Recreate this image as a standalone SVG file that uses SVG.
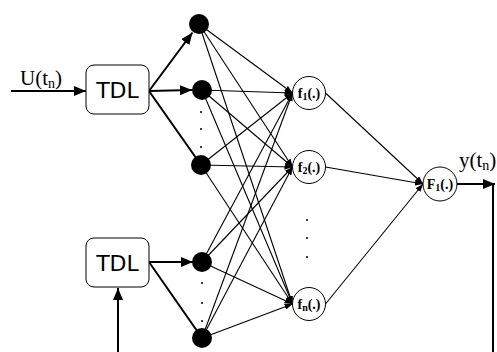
<svg xmlns="http://www.w3.org/2000/svg" width="497" height="352" viewBox="0 0 497 352">
<defs>
<marker id="ab" markerUnits="userSpaceOnUse" markerWidth="12" markerHeight="10" viewBox="0 0 12 10" refX="12" refY="5" orient="auto"><path d="M0,0 L12,5 L0,10 Z" fill="#000"/></marker>
<marker id="as" markerUnits="userSpaceOnUse" markerWidth="8" markerHeight="6" viewBox="0 0 8 6" refX="8" refY="3" orient="auto"><path d="M0,0 L8,3 L0,6 Z" fill="#000"/></marker>
</defs>
<style>
.thick{stroke:#000;stroke-width:2;fill:none}
.thin{stroke:#000;stroke-width:1.1;fill:none}
.box{fill:#fff;stroke:#000;stroke-width:1}
.tdl{font-family:"DejaVu Sans",sans-serif;font-size:22px;text-anchor:middle}
.lbl{font-family:"Liberation Serif",serif;font-size:21px}
.fn{font-family:"Liberation Serif",serif;font-size:14px;font-weight:bold;text-anchor:middle}
.hid{fill:#000}
.fc{fill:#fff;stroke:#000;stroke-width:1}
.dot{fill:#000}
</style>
<g id="connectors">
<line class="thick" x1="11" y1="91" x2="86" y2="91" marker-end="url(#ab)"/>
<line class="thick" x1="118" y1="352" x2="118" y2="288" marker-end="url(#ab)"/>
<line class="thick" x1="149" y1="91" x2="192.5" y2="32.5" marker-end="url(#ab)"/>
<line class="thick" x1="149" y1="91" x2="192" y2="90" marker-end="url(#ab)"/>
<line class="thick" x1="149" y1="91" x2="201" y2="165"/>
<line class="thick" x1="149" y1="262" x2="193" y2="262" marker-end="url(#ab)"/>
<line class="thick" x1="149" y1="262" x2="202" y2="338"/>
<g class="thin">
<line x1="199" y1="24" x2="292.5" y2="93" marker-end="url(#as)"/>
<line x1="199" y1="24" x2="292.5" y2="167" marker-end="url(#as)"/>
<line x1="199" y1="24" x2="292.5" y2="304" marker-end="url(#as)"/>
<line x1="202" y1="90" x2="292.5" y2="93" marker-end="url(#as)"/>
<line x1="202" y1="90" x2="292.5" y2="167" marker-end="url(#as)"/>
<line x1="202" y1="90" x2="292.5" y2="304" marker-end="url(#as)"/>
<line x1="201" y1="165" x2="292.5" y2="93" marker-end="url(#as)"/>
<line x1="201" y1="165" x2="292.5" y2="167" marker-end="url(#as)"/>
<line x1="201" y1="165" x2="292.5" y2="304" marker-end="url(#as)"/>
<line x1="202" y1="262" x2="292.5" y2="93" marker-end="url(#as)"/>
<line x1="202" y1="262" x2="292.5" y2="167" marker-end="url(#as)"/>
<line x1="202" y1="262" x2="292.5" y2="304" marker-end="url(#as)"/>
<line x1="202" y1="338" x2="292.5" y2="93" marker-end="url(#as)"/>
<line x1="202" y1="338" x2="292.5" y2="167" marker-end="url(#as)"/>
<line x1="202" y1="338" x2="292.5" y2="304" marker-end="url(#as)"/>
<line x1="325.5" y1="93" x2="423" y2="184" marker-end="url(#as)"/>
<line x1="325.5" y1="167" x2="423" y2="184" marker-end="url(#as)"/>
<line x1="325.5" y1="304" x2="423" y2="184" marker-end="url(#as)"/>
</g>
<line class="thick" x1="457" y1="184" x2="495" y2="184" marker-end="url(#ab)"/>
<line class="thick" x1="493" y1="184" x2="493" y2="352"/>
</g>
<g id="tdl1"><rect class="box" x="86" y="65" width="63" height="49" rx="8"/><text class="tdl" x="117.5" y="97.5">TDL</text></g>
<g id="tdl2"><rect class="box" x="86" y="238" width="63" height="49" rx="8"/><text class="tdl" x="117.5" y="270.5">TDL</text></g>
<g id="h1"><circle class="hid" cx="199" cy="24" r="10"/></g>
<g id="h2"><circle class="hid" cx="202" cy="90" r="10"/></g>
<g id="h3"><circle class="hid" cx="201" cy="165" r="10"/></g>
<g id="h4"><circle class="hid" cx="202" cy="262" r="10"/></g>
<g id="h5"><circle class="hid" cx="202" cy="338" r="10"/></g>
<g id="dots">
<circle class="dot" cx="201" cy="112" r="1"/><circle class="dot" cx="201" cy="129" r="1"/><circle class="dot" cx="201" cy="147" r="1"/>
<circle class="dot" cx="202" cy="283" r="1"/><circle class="dot" cx="202" cy="303" r="1"/><circle class="dot" cx="202" cy="321" r="1"/>
<circle class="dot" cx="307" cy="220" r="1"/><circle class="dot" cx="307" cy="238" r="1"/><circle class="dot" cx="307" cy="257" r="1"/>
</g>
<g id="f1"><circle class="fc" cx="309" cy="93" r="16.5"/><text class="fn" x="309" y="98">f<tspan font-size="10" dy="2">1</tspan><tspan dy="-2">(.)</tspan></text></g>
<g id="f2"><circle class="fc" cx="309" cy="167" r="16.5"/><text class="fn" x="309" y="172">f<tspan font-size="10" dy="2">2</tspan><tspan dy="-2">(.)</tspan></text></g>
<g id="fn"><circle class="fc" cx="309" cy="304" r="16.5"/><text class="fn" x="309" y="309">f<tspan font-size="10" dy="2">n</tspan><tspan dy="-2">(.)</tspan></text></g>
<g id="F1"><circle class="fc" cx="440" cy="184" r="17"/><text class="fn" x="440" y="189" font-size="13">F<tspan font-size="10" dy="2">1</tspan><tspan dy="-2">(.)</tspan></text></g>
<g id="labels">
<text class="lbl" x="20" y="85">U(t<tspan font-size="14" dy="3">n</tspan><tspan dy="-3">)</tspan></text>
<text class="lbl" x="459" y="167">y(t<tspan font-size="14" dy="3">n</tspan><tspan dy="-3">)</tspan></text>
</g>
</svg>
